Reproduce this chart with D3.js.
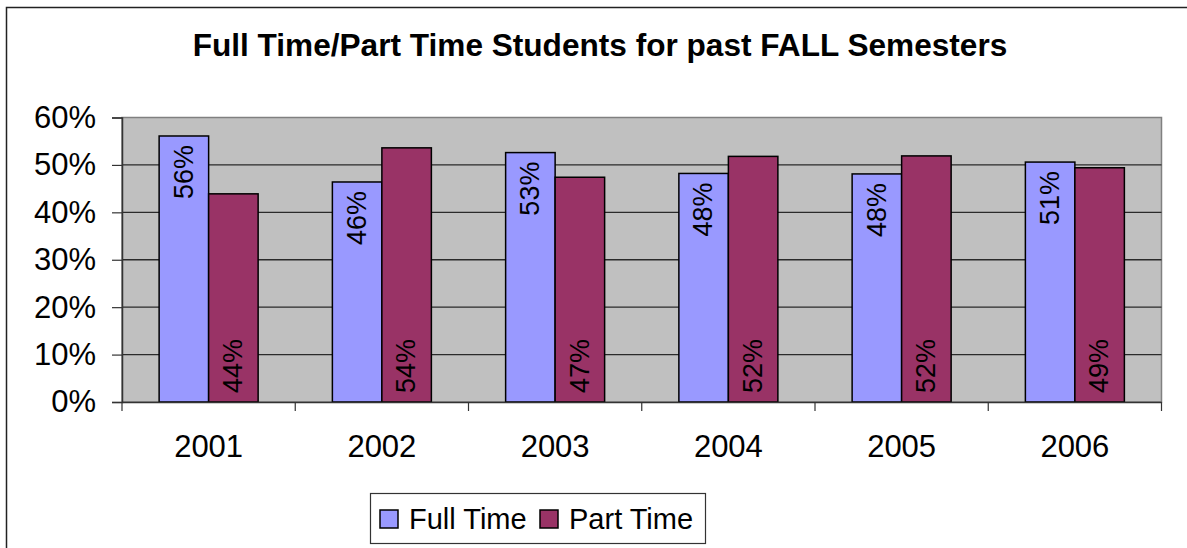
<!DOCTYPE html>
<html>
<head>
<meta charset="utf-8">
<script src="https://cdn.jsdelivr.net/npm/d3@7"></script>
<style>
body { margin: 0; background: #fff; }
svg { display: block; font-family: Arial, "Liberation Sans", sans-serif; }
</style>
</head>
<body>
<div class="chart"></div>
<script>
// chart data
var years = ["2001", "2002", "2003", "2004", "2005", "2006"];
var seriesNames = ["Full Time", "Part Time"];
var fullTime = [0.561, 0.464, 0.526, 0.482, 0.481, 0.506];
var partTime = [0.439, 0.536, 0.474, 0.518, 0.519, 0.494];
var yTicks = [0, 0.1, 0.2, 0.3, 0.4, 0.5, 0.6];
var colors = ["#9999ff", "#993366"];

var svg_w = 1187, svg_h = 548;
var svg = d3.select("div.chart").append("svg")
.attr("width", svg_w)
.attr("height", svg_h);

// plot area
var plotLeft = 122, plotRight = 1161.5, plotTop = 117.5, plotBottom = 402;

var x0 = d3.scaleBand().domain(years).range([plotLeft, plotRight]);
var x1 = d3.scaleBand().domain(seriesNames).range([0, x0.bandwidth()]).paddingOuter(0.75);
var y = d3.scaleLinear().domain([0, 0.6]).range([plotBottom, plotTop]);
var color = d3.scaleOrdinal().domain(seriesNames).range(colors);
var pct = d3.format(".0%");

// chart border (runs off the right and bottom edges)
svg.append("path")
.attr("d", "M6.5," + svg_h + "V7.5H" + svg_w)
.attr("fill", "none")
.attr("stroke", "#222")
.attr("stroke-width", 1.5);

// title
svg.append("text")
.attr("x", 600)
.attr("y", 56)
.attr("text-anchor", "middle")
.attr("font-weight", "bold")
.attr("font-size", "31.6px")
.text("Full Time/Part Time Students for past FALL Semesters");

// plot background
svg.append("rect")
.attr("x", plotLeft).attr("y", plotTop)
.attr("width", plotRight - plotLeft).attr("height", plotBottom - plotTop)
.attr("fill", "#c0c0c0")
.attr("stroke", "#808080")
.attr("stroke-width", 1.5);

// gridlines
svg.append("g")
.selectAll("line")
.data(yTicks.slice(1, -1))
.enter()
.append("line")
.attr("x1", plotLeft).attr("x2", plotRight)
.attr("y1", function(d) { return y(d); })
.attr("y2", function(d) { return y(d); })
.attr("stroke", "#2a2a2a")
.attr("stroke-width", 1.3);

// y axis
var yAxis = d3.axisLeft(y).tickValues(yTicks).tickFormat(pct).tickSize(10).tickPadding(16);
var gy = svg.append("g")
.attr("transform", "translate(" + plotLeft + ",0)")
.call(yAxis);
gy.select(".domain").attr("stroke", "#333").attr("stroke-width", 1.5);
gy.selectAll(".tick line").attr("stroke", "#333").attr("stroke-width", 1.2);
gy.selectAll("text")
.attr("font-size", "31px")
.attr("font-family", "Arial, 'Liberation Sans', sans-serif")
.attr("fill", "#000");

// bars
var rows = years.map(function(yr, i) {
	return { year: yr, values: [
		{ name: seriesNames[0], value: fullTime[i] },
		{ name: seriesNames[1], value: partTime[i] }
	] };
});

var groups = svg.append("g")
.selectAll("g")
.data(rows)
.enter()
.append("g")
.attr("transform", function(d) { return "translate(" + x0(d.year) + ",0)"; });

groups.selectAll("rect")
.data(function(d) { return d.values; })
.enter()
.append("rect")
.attr("x", function(d) { return x1(d.name); })
.attr("y", function(d) { return y(d.value); })
.attr("width", x1.bandwidth())
.attr("height", function(d) { return plotBottom - y(d.value); })
.attr("fill", function(d) { return color(d.name); })
.attr("stroke", "#000")
.attr("stroke-width", 1.5);

// rotated value labels: full time at top of bar, part time at base
groups.selectAll("text")
.data(function(d) { return d.values; })
.enter()
.append("text")
.attr("transform", function(d, i) {
	var cx = x1(d.name) + x1.bandwidth() / 2 - 1;
	var cy = i == 0 ? y(d.value) + 9 : plotBottom - 9;
	return "translate(" + cx + "," + cy + ") rotate(-90)";
})
.attr("text-anchor", function(d, i) { return i == 0 ? "end" : "start"; })
.attr("dy", "0.36em")
.attr("font-size", "27px")
.text(function(d) { return pct(d.value); });

// x axis
var xAxis = d3.axisBottom(x0).tickSize(0).tickPadding(0);
var gx = svg.append("g")
.attr("transform", "translate(0," + plotBottom + ")")
.call(xAxis);
gx.select(".domain").attr("stroke", "#333").attr("stroke-width", 1.5);
gx.selectAll("text")
.attr("font-size", "31px")
.attr("font-family", "Arial, 'Liberation Sans', sans-serif")
.attr("fill", "#000")
.attr("dy", null)
.attr("y", 55);

// tick marks between categories
svg.append("g")
.selectAll("line")
.data(years.concat(["end"]))
.enter()
.append("line")
.attr("x1", function(d, i) { return plotLeft + i * x0.step(); })
.attr("x2", function(d, i) { return plotLeft + i * x0.step(); })
.attr("y1", plotBottom)
.attr("y2", plotBottom + 9)
.attr("stroke", "#333")
.attr("stroke-width", 1.2);

// legend
var legend = svg.append("g");
legend.append("rect")
.attr("x", 370.5).attr("y", 493.5)
.attr("width", 335).attr("height", 50)
.attr("fill", "#fff")
.attr("stroke", "#333")
.attr("stroke-width", 1.2);

var legendX = [380, 540];
var items = legend.selectAll("g.item")
.data(seriesNames)
.enter()
.append("g")
.attr("class", "item")
.attr("transform", function(d, i) { return "translate(" + legendX[i] + ",0)"; });

items.append("rect")
.attr("x", 0).attr("y", 510)
.attr("width", 18).attr("height", 18)
.attr("fill", function(d) { return color(d); })
.attr("stroke", "#000")
.attr("stroke-width", 1.5);

items.append("text")
.attr("x", 29)
.attr("y", 529)
.attr("font-size", "29px")
.text(function(d) { return d; });
</script>
</body>
</html>
